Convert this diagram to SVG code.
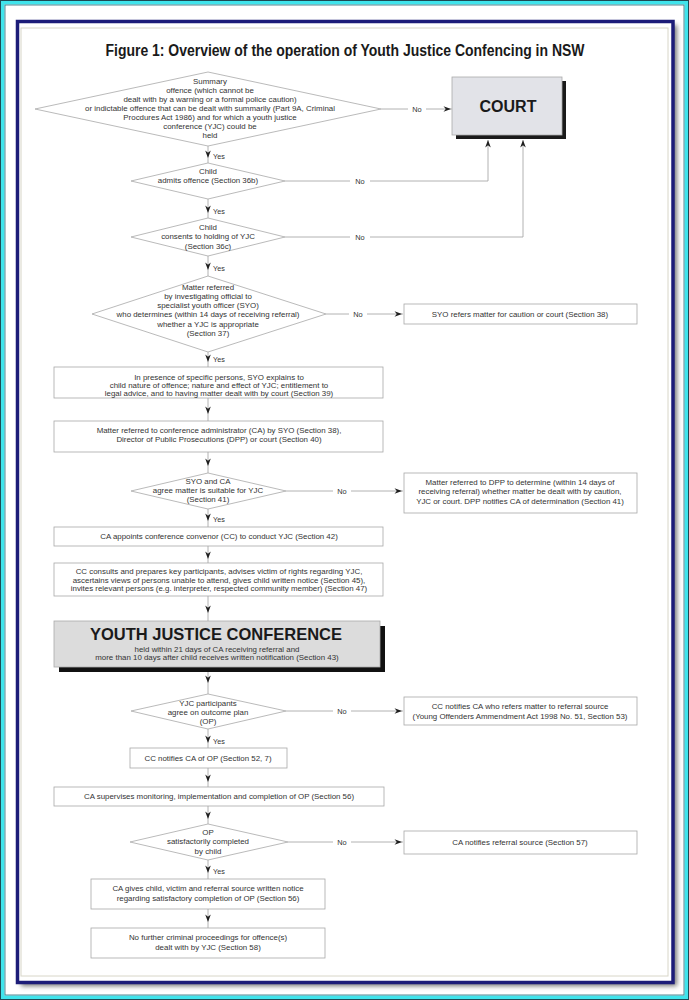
<svg xmlns="http://www.w3.org/2000/svg" xmlns:xlink="http://www.w3.org/1999/xlink" width="689" height="1000" viewBox="0 0 689 1000">
<style>
.t{font-family:"Liberation Sans",Arial,sans-serif;font-size:7.9px;fill:#333;text-anchor:middle}
.n{font-family:"Liberation Sans",Arial,sans-serif;font-size:7.4px;fill:#333;text-anchor:middle}
.l{font-family:"Liberation Sans",Arial,sans-serif;font-size:7.2px;fill:#333}
.s{fill:#fff;stroke:#a8a8a8;stroke-width:0.8}
.c{fill:none;stroke:#a0a0a0;stroke-width:0.8}
.a{fill:#1e1e1e}
</style>
<defs>
<path id="ar" d="M0,0 L-2.8,-7.5 L0,-5.2 L2.8,-7.5 Z"/>
<filter id="blur" x="-5%" y="-5%" width="110%" height="110%"><feGaussianBlur stdDeviation="2.5"/></filter>
</defs>
<rect x="0" y="0" width="689" height="1000" fill="#fff"/>
<rect x="2.5" y="2.5" width="684" height="995" fill="none" stroke="#40e4ec" stroke-width="4"/>
<rect x="0.5" y="0.5" width="688" height="999" fill="none" stroke="#1d4a55" stroke-width="1"/>
<rect x="5" y="5" width="679" height="990" fill="none" stroke="#2a6a78" stroke-width="0.8"/>
<rect x="21" y="25" width="656" height="961" fill="#777" filter="url(#blur)"/>
<rect x="17.5" y="21.5" width="655.5" height="961" fill="#fff" stroke="#1c1c78" stroke-width="3.5"/>
<rect x="21" y="28" width="647" height="948" fill="none" stroke="#d8d6c8" stroke-width="1"/>
<text x="345" y="56" font-family="'Liberation Sans',Arial,sans-serif" font-size="16" font-weight="bold" fill="#1a1a1a" text-anchor="middle" textLength="479" lengthAdjust="spacingAndGlyphs">Figure 1: Overview of the operation of Youth Justice Confencing in NSW</text>

<g id="connectors">
<path class="c" d="M208,146V163M208,199V218M208,256V276M208,352V367M208,398V421M208,452V473M208,509V527M208,546V563M208,596V621M208,672V694M208,729V748M208,768V787M208,806V824M208,860V879M208,909V928"/>
<path class="c" d="M381,109H408M426,109H452M285,181H350M370,181H488V140M285,237H350M370,237H523V140M326,314H349M367,314H403M286,491H333M351,491H403M286,711H333M351,711H403M288,842H333M351,842H403"/>
<g class="a">
<use xlink:href="#ar" transform="translate(208,158)"/>
<use xlink:href="#ar" transform="translate(208,213)"/>
<use xlink:href="#ar" transform="translate(208,270)"/>
<use xlink:href="#ar" transform="translate(208,362)"/>
<use xlink:href="#ar" transform="translate(208,414)"/>
<use xlink:href="#ar" transform="translate(208,466)"/>
<use xlink:href="#ar" transform="translate(208,521)"/>
<use xlink:href="#ar" transform="translate(208,559)"/>
<use xlink:href="#ar" transform="translate(208,613)"/>
<use xlink:href="#ar" transform="translate(208,683)"/>
<use xlink:href="#ar" transform="translate(208,743)"/>
<use xlink:href="#ar" transform="translate(208,782)"/>
<use xlink:href="#ar" transform="translate(208,819)"/>
<use xlink:href="#ar" transform="translate(208,873)"/>
<use xlink:href="#ar" transform="translate(208,922)"/>
<use xlink:href="#ar" transform="translate(451,109) rotate(-90)"/>
<use xlink:href="#ar" transform="translate(488,140) rotate(180)"/>
<use xlink:href="#ar" transform="translate(523,140) rotate(180)"/>
<use xlink:href="#ar" transform="translate(402,314) rotate(-90)"/>
<use xlink:href="#ar" transform="translate(402,491) rotate(-90)"/>
<use xlink:href="#ar" transform="translate(402,711) rotate(-90)"/>
<use xlink:href="#ar" transform="translate(402,842) rotate(-90)"/>
</g>
<text class="l" x="213" y="159">Yes</text>
<text class="l" x="213" y="214">Yes</text>
<text class="l" x="213" y="271">Yes</text>
<text class="l" x="213" y="362">Yes</text>
<text class="l" x="213" y="522">Yes</text>
<text class="l" x="213" y="744">Yes</text>
<text class="l" x="213" y="874">Yes</text>
<text class="n" x="417" y="111.5">No</text>
<text class="n" x="360" y="183.5">No</text>
<text class="n" x="360" y="239.5">No</text>
<text class="n" x="358" y="316.5">No</text>
<text class="n" x="342" y="493.5">No</text>
<text class="n" x="342" y="713.5">No</text>
<text class="n" x="342" y="844.5">No</text>
</g>

<g id="d1">
<polygon class="s" points="208,72 381,109 208,146 35,109"/>
<text class="t" x="210" y="83.7">Summary</text>
<text class="t" x="210" y="92.7">offence (which cannot be</text>
<text class="t" x="210" y="101.7">dealt with by a warning or a formal police caution)</text>
<text class="t" x="210" y="110.7">or indictable offence that can be dealt with summarily (Part 9A, Criminal</text>
<text class="t" x="210" y="119.7">Procdures Act 1986) and for which a youth justice</text>
<text class="t" x="210" y="128.7">conference (YJC) could be</text>
<text class="t" x="210" y="137.7">held</text>
</g>
<g id="court">
<rect x="456" y="81" width="110" height="58" fill="#1a1a1a"/>
<rect x="452" y="77" width="110" height="58" fill="#e2e3e8" stroke="#aaa" stroke-width="0.8"/>
<text x="508" y="111.5" font-family="'Liberation Sans',Arial,sans-serif" font-size="16" font-weight="bold" fill="#1a1a1a" text-anchor="middle">COURT</text>
</g>
<g id="d2">
<polygon class="s" points="208,163 285,181 208,199 131,181"/>
<text class="t" x="208" y="173.5">Child</text>
<text class="t" x="208" y="183">admits offence (Section 36b)</text>
</g>
<g id="d3">
<polygon class="s" points="208,218 285,237 208,256 131,237"/>
<text class="t" x="208" y="229.5">Child</text>
<text class="t" x="208" y="239">consents to holding of YJC</text>
<text class="t" x="208" y="248.5">(Section 36c)</text>
</g>
<g id="d4">
<polygon class="s" points="208,276 326,314 208,352 92,314"/>
<text class="t" x="208" y="289.5">Matter referred</text>
<text class="t" x="208" y="299">by investigating official to</text>
<text class="t" x="208" y="308">specialist youth officer (SYO)</text>
<text class="t" x="208" y="317">who determines (within 14 days of receiving referral)</text>
<text class="t" x="208" y="326.5">whether a YJC is appropriate</text>
<text class="t" x="208" y="336">(Section 37)</text>
</g>
<g id="syo-refers">
<rect class="s" x="404" y="304" width="233" height="20"/>
<text class="t" x="520" y="316.5">SYO refers matter for caution or court (Section 38)</text>
</g>
<g id="b1">
<rect class="s" x="54" y="367" width="329" height="31"/>
<text class="t" x="219" y="379.5">In presence of specific persons, SYO explains to</text>
<text class="t" x="219" y="387.7">child nature of offence; nature and effect of YJC; entitlement to</text>
<text class="t" x="219" y="395.7">legal advice, and to having matter dealt with by court (Section 39)</text>
</g>
<g id="b2">
<rect class="s" x="54" y="421" width="329" height="31"/>
<text class="t" x="219" y="433">Matter referred to conference administrator (CA) by SYO (Section 38),</text>
<text class="t" x="219" y="441.7">Director of Public Prosecutions (DPP) or court (Section 40)</text>
</g>
<g id="d5">
<polygon class="s" points="208,473 286,491 208,509 131,491"/>
<text class="t" x="208" y="484">SYO and CA</text>
<text class="t" x="208" y="493">agree matter is suitable for YJC</text>
<text class="t" x="208" y="502">(Section 41)</text>
</g>
<g id="dpp">
<rect class="s" x="404" y="473" width="233" height="40"/>
<text class="t" x="520" y="484.5">Matter referred to DPP to determine (within 14 days of</text>
<text class="t" x="520" y="494">receiving referral) whether matter be dealt with by caution,</text>
<text class="t" x="520" y="503.5">YJC or court.  DPP notifies CA of determination (Section 41)</text>
</g>
<g id="ca-appoints">
<rect class="s" x="54" y="527" width="329" height="19"/>
<text class="t" x="219" y="539">CA appoints conference convenor (CC) to conduct YJC (Section 42)</text>
</g>
<g id="cc-consults">
<rect class="s" x="54" y="563" width="329" height="33"/>
<text class="t" x="219" y="574">CC consults and prepares key participants, advises victim of rights regarding YJC,</text>
<text class="t" x="219" y="582.5">ascertains views of persons unable to attend, gives child written notice (Section 45),</text>
<text class="t" x="219" y="591">invites relevant persons (e.g. interpreter, respected community member) (Section 47)</text>
</g>
<g id="yjc">
<rect x="59" y="626" width="326" height="46" fill="#111"/>
<rect x="54" y="621" width="326" height="46" fill="#dcdcdc" stroke="#aaa" stroke-width="0.8"/>
<text x="216" y="640" font-family="'Liberation Sans',Arial,sans-serif" font-size="16.5" font-weight="bold" fill="#1a1a1a" text-anchor="middle">YOUTH JUSTICE CONFERENCE</text>
<text class="t" x="217" y="651.5">held within 21 days of CA receiving referral and</text>
<text class="t" x="217" y="660">more than 10 days after child receives written notification (Section 43)</text>
</g>
<g id="d6">
<polygon class="s" points="208,694 286,711 208,729 131,711"/>
<text class="t" x="208" y="705.5">YJC participants</text>
<text class="t" x="208" y="714.5">agree on outcome plan</text>
<text class="t" x="208" y="723.5">(OP)</text>
</g>
<g id="cc-notifies-ca">
<rect class="s" x="404" y="697" width="233" height="28"/>
<text class="t" x="520" y="709">CC notifies CA who refers matter to referral source</text>
<text class="t" x="520" y="718.5">(Young Offenders Ammendment Act 1998 No. 51, Section 53)</text>
</g>
<g id="cc-op">
<rect class="s" x="130" y="748" width="157" height="20"/>
<text class="t" x="208" y="760.5">CC notifies CA of OP (Section 52, 7)</text>
</g>
<g id="ca-supervises">
<rect class="s" x="54" y="787" width="330" height="19"/>
<text class="t" x="219" y="799">CA supervises monitoring, implementation and completion of OP (Section 56)</text>
</g>
<g id="d7">
<polygon class="s" points="208,824 288,842 208,860 130,842"/>
<text class="t" x="208" y="834.5">OP</text>
<text class="t" x="208" y="844">satisfactorily completed</text>
<text class="t" x="208" y="853.5">by child</text>
</g>
<g id="ca-notifies">
<rect class="s" x="404" y="831" width="233" height="23"/>
<text class="t" x="520" y="845">CA notifies referral source (Section 57)</text>
</g>
<g id="ca-gives">
<rect class="s" x="91" y="879" width="234" height="30"/>
<text class="t" x="208" y="891">CA gives child, victim and referral source written notice</text>
<text class="t" x="208" y="900.5">regarding satisfactory completion of OP (Section 56)</text>
</g>
<g id="no-further">
<rect class="s" x="91" y="928" width="234" height="30"/>
<text class="t" x="208" y="940">No further criminal proceedings for offence(s)</text>
<text class="t" x="208" y="949.5">dealt with by YJC (Section 58)</text>
</g>
</svg>
